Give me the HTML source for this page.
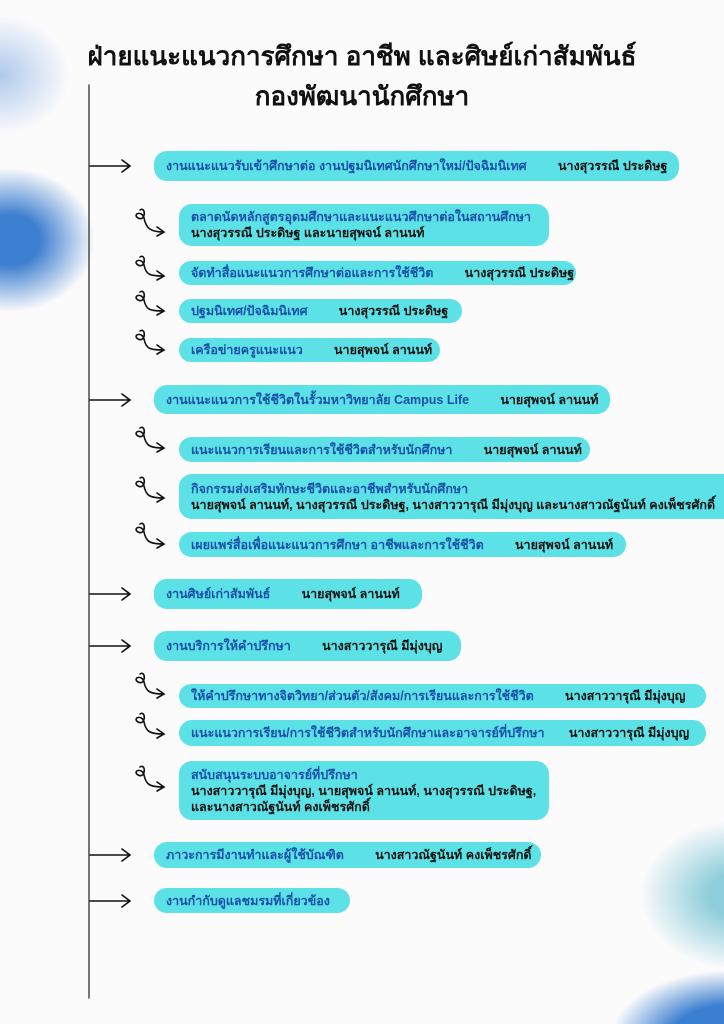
<!DOCTYPE html>
<html style="overflow:hidden"><head><meta charset="utf-8"><style>
html,body{margin:0;width:724px;height:1024px;overflow:hidden}
#w{position:relative;width:724px;height:1024px;overflow:hidden;font-family:"Liberation Sans","Noto Sans CJK SC",sans-serif;
background:
radial-gradient(ellipse 70px 60px at 0px 75px,rgba(150,185,230,.75),rgba(150,185,230,0)),
radial-gradient(ellipse 85px 72px at 10px 240px,#3d7fd0 35%,rgba(61,127,208,0)),
radial-gradient(ellipse 100px 75px at 740px 895px,rgba(130,200,215,.9) 30%,rgba(150,190,230,0)),
radial-gradient(ellipse 120px 70px at 730px 1040px,#3b7fd0 50%,rgba(59,127,208,0)),
#fbfbfc}
h1{position:absolute;left:0;width:724px;text-align:center;margin:0;font-size:26px;font-weight:bold;color:#111}
.b{position:absolute;background:#5ce1e6;border-radius:13px;font-size:12.5px;font-weight:bold;color:#1a50a8;padding:0 12px;box-sizing:border-box;display:flex;flex-direction:column;justify-content:center;line-height:16px;white-space:nowrap;overflow:hidden}
.b span{color:#111}
.k{color:#111}
svg.a{position:absolute;left:0;top:0}
</style></head><body><div id="w">
<h1 style="top:36px">ฝ่ายแนะแนวการศึกษา อาชีพ และศิษย์เก่าสัมพันธ์</h1>
<h1 style="top:76px">กองพัฒนานักศึกษา</h1>
<svg class="a" width="724" height="1024" fill="none" stroke="#111" stroke-width="1.6" stroke-linecap="round">
<line x1="89" y1="85" x2="89" y2="998" stroke="#555"/>
<path d="M90 166 H130 M122 160 L130 166 L122 172"/>
<path d="M90 400 H130 M122 394 L130 400 L122 406"/>
<path d="M90 594 H130 M122 588 L130 594 L122 600"/>
<path d="M90 646 H130 M122 640 L130 646 L122 652"/>
<path d="M90 855 H130 M122 849 L130 855 L122 861"/>
<path d="M90 901 H130 M122 895 L130 901 L122 907"/>
<g>
<path d="M140 210 c6 -4 6 12 -2 8 c-6 -4 4 -8 6 0 c2 10 6 14 20 14 M157 227 L164 232 L157 236"/>
<path d="M140 257 c6 -4 6 12 -2 8 c-6 -4 4 -8 6 0 c2 10 6 11 20 11 M157 271 L164 276 L157 280"/>
<path d="M140 292 c6 -4 6 12 -2 8 c-6 -4 4 -8 6 0 c2 10 6 11 20 11 M157 306 L164 311 L157 315"/>
<path d="M140 331 c6 -4 6 12 -2 8 c-6 -4 4 -8 6 0 c2 10 6 11 20 11 M157 345 L164 350 L157 354"/>
<path d="M140 428 c6 -4 6 12 -2 8 c-6 -4 4 -8 6 0 c2 10 6 12 20 12 M157 443 L164 448 L157 452"/>
<path d="M140 478 c6 -4 6 12 -2 8 c-6 -4 4 -8 6 0 c2 10 6 12 20 12 M157 493 L164 498 L157 502"/>
<path d="M140 524 c6 -4 6 12 -2 8 c-6 -4 4 -8 6 0 c2 10 6 12 20 12 M157 539 L164 544 L157 548"/>
<path d="M140 674 c6 -4 6 12 -2 8 c-6 -4 4 -8 6 0 c2 10 6 12 20 12 M157 689 L164 694 L157 698"/>
<path d="M140 714 c6 -4 6 12 -2 8 c-6 -4 4 -8 6 0 c2 10 6 12 20 12 M157 729 L164 734 L157 738"/>
<path d="M140 767 c6 -4 6 12 -2 8 c-6 -4 4 -8 6 0 c2 10 6 12 20 12 M157 782 L164 787 L157 791"/>
</g>
</svg>
<div class="b" style="left:154px;top:151px;width:525px;height:30px">งานแนะแนวรับเข้าศึกษาต่อ งานปฐมนิเทศนักศึกษาใหม่/ปัจฉิมนิเทศ<span style="position:absolute;left:404px">นางสุวรรณี ประดิษฐ</span></div>
<div class="b" style="left:179px;top:204px;width:370px;height:42px"><div>ตลาดนัดหลักสูตรอุดมศึกษาและแนะแนวศึกษาต่อในสถานศึกษา</div><div class="k">นางสุวรรณี ประดิษฐ และนายสุพจน์ ลานนท์</div></div>
<div class="b" style="left:179px;top:261px;width:397px;height:24px"><div>จัดทำสื่อแนะแนวการศึกษาต่อและการใช้ชีวิต &nbsp;&nbsp;&nbsp;&nbsp;&nbsp;&nbsp;&nbsp;&nbsp;<span>นางสุวรรณี ประดิษฐ</span></div></div>
<div class="b" style="left:179px;top:299px;width:283px;height:24px"><div>ปฐมนิเทศ/ปัจฉิมนิเทศ &nbsp;&nbsp;&nbsp;&nbsp;&nbsp;&nbsp;&nbsp;&nbsp;<span>นางสุวรรณี ประดิษฐ</span></div></div>
<div class="b" style="left:179px;top:338px;width:261px;height:24px"><div>เครือข่ายครูแนะแนว &nbsp;&nbsp;&nbsp;&nbsp;&nbsp;&nbsp;&nbsp;&nbsp;<span>นายสุพจน์ ลานนท์</span></div></div>
<div class="b" style="left:154px;top:385px;width:456px;height:29px"><div>งานแนะแนวการใช้ชีวิตในรั้วมหาวิทยาลัย Campus Life &nbsp;&nbsp;&nbsp;&nbsp;&nbsp;&nbsp;&nbsp;&nbsp;<span>นายสุพจน์ ลานนท์</span></div></div>
<div class="b" style="left:179px;top:437px;width:411px;height:25px"><div>แนะแนวการเรียนและการใช้ชีวิตสำหรับนักศึกษา &nbsp;&nbsp;&nbsp;&nbsp;&nbsp;&nbsp;&nbsp;&nbsp;<span>นายสุพจน์ ลานนท์</span></div></div>
<div class="b" style="left:179px;top:474px;width:545px;height:45px;border-radius:13px 0 0 13px"><div>กิจกรรมส่งเสริมทักษะชีวิตและอาชีพสำหรับนักศึกษา</div><div class="k">นายสุพจน์ ลานนท์, นางสุวรรณี ประดิษฐ, นางสาววารุณี มีมุ่งบุญ และนางสาวณัฐนันท์ คงเพ็ชรศักดิ์</div></div>
<div class="b" style="left:179px;top:532px;width:447px;height:25px"><div>เผยแพร่สื่อเพื่อแนะแนวการศึกษา อาชีพและการใช้ชีวิต &nbsp;&nbsp;&nbsp;&nbsp;&nbsp;&nbsp;&nbsp;&nbsp;<span>นายสุพจน์ ลานนท์</span></div></div>
<div class="b" style="left:154px;top:579px;width:268px;height:30px"><div>งานศิษย์เก่าสัมพันธ์ &nbsp;&nbsp;&nbsp;&nbsp;&nbsp;&nbsp;&nbsp;&nbsp;<span>นายสุพจน์ ลานนท์</span></div></div>
<div class="b" style="left:154px;top:631px;width:307px;height:30px"><div>งานบริการให้คำปรึกษา &nbsp;&nbsp;&nbsp;&nbsp;&nbsp;&nbsp;&nbsp;&nbsp;<span>นางสาววารุณี มีมุ่งบุญ</span></div></div>
<div class="b" style="left:179px;top:684px;width:527px;height:24px"><div>ให้คำปรึกษาทางจิตวิทยา/ส่วนตัว/สังคม/การเรียนและการใช้ชีวิต &nbsp;&nbsp;&nbsp;&nbsp;&nbsp;&nbsp;&nbsp;&nbsp;<span>นางสาววารุณี มีมุ่งบุญ</span></div></div>
<div class="b" style="left:179px;top:720px;width:527px;height:26px"><div>แนะแนวการเรียน/การใช้ชีวิตสำหรับนักศึกษาและอาจารย์ที่ปรึกษา &nbsp;&nbsp;&nbsp;&nbsp;&nbsp;&nbsp;<span>นางสาววารุณี มีมุ่งบุญ</span></div></div>
<div class="b" style="left:179px;top:761px;width:370px;height:59px"><div>สนับสนุนระบบอาจารย์ที่ปรึกษา</div><div class="k">นางสาววารุณี มีมุ่งบุญ, นายสุพจน์ ลานนท์, นางสุวรรณี ประดิษฐ,</div><div class="k">และนางสาวณัฐนันท์ คงเพ็ชรศักดิ์</div></div>
<div class="b" style="left:154px;top:842px;width:387px;height:26px"><div>ภาวะการมีงานทำและผู้ใช้บัณฑิต &nbsp;&nbsp;&nbsp;&nbsp;&nbsp;&nbsp;&nbsp;&nbsp;<span>นางสาวณัฐนันท์ คงเพ็ชรศักดิ์</span></div></div>
<div class="b" style="left:154px;top:888px;width:196px;height:25px"><div>งานกำกับดูแลชมรมที่เกี่ยวข้อง</div></div>
</div></body></html>
